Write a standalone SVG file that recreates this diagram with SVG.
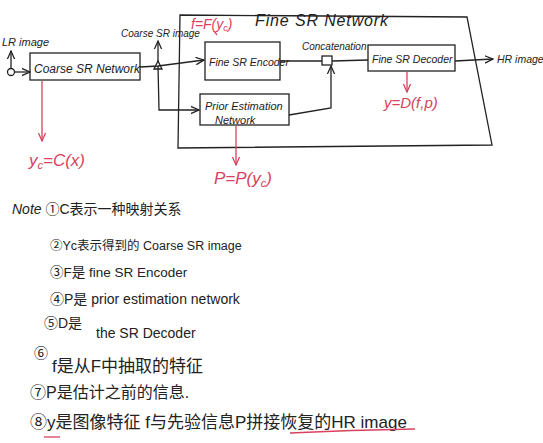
<svg xmlns="http://www.w3.org/2000/svg" width="543" height="443" viewBox="0 0 543 443">
<defs>
<style>
.ink{fill:none;stroke:#222;stroke-width:1.3}
.red{fill:none;stroke:#d9415e;stroke-width:1.3}
.t{font-family:"Liberation Sans","Noto Sans CJK SC",sans-serif;fill:#222;font-style:italic}
.r{font-family:"Liberation Sans","Noto Sans CJK SC",sans-serif;fill:#d9415e;font-style:italic}
.n{font-family:"Liberation Sans","Noto Sans CJK SC",sans-serif;fill:#222}
</style>
<marker id="ah" viewBox="0 0 10 10" refX="9" refY="5" markerWidth="7" markerHeight="7" orient="auto-start-reverse"><path d="M0,1 L9,5 L0,9" fill="none" stroke="#222" stroke-width="1.4"/></marker>
<marker id="ahr" viewBox="0 0 10 10" refX="9" refY="5" markerWidth="7" markerHeight="7" orient="auto-start-reverse"><path d="M0,1 L9,5 L0,9" fill="none" stroke="#d9415e" stroke-width="1.4"/></marker>
</defs>
<rect width="543" height="443" fill="#fff"/>

<g id="fine-sr-network">
<path class="ink" d="M180,15 L467,17 L492,145 L178,148 Z"/>
<text class="t" x="255" y="26" font-size="16" textLength="133">Fine  SR  Network</text>
<text class="r" x="191" y="29" font-size="14">f=F(y<tspan font-size="9" dy="2">c</tspan><tspan dy="-2">)</tspan></text>
</g>

<g id="lr-image">
<circle cx="11" cy="72" r="3.5" class="ink"/>
<text class="t" x="2" y="46" font-size="11">LR image</text>
</g>

<g id="coarse-sr-network">
<rect x="30" y="53" width="110" height="27" class="ink"/>
<text class="t" x="34" y="73" font-size="12">Coarse  SR  Network</text>
</g>

<g id="fine-sr-encoder">
<rect x="205" y="42" width="75" height="38" class="ink"/>
<text class="t" x="209" y="66" font-size="10.5">Fine SR Encoder</text>
</g>

<g id="concatenation">
<rect x="322" y="56" width="10" height="9" class="ink"/>
<text class="t" x="302" y="50" font-size="10">Concatenation</text>
</g>

<g id="fine-sr-decoder">
<rect x="368" y="45" width="87" height="26" class="ink"/>
<text class="t" x="372" y="63" font-size="10.5">Fine SR Decoder</text>
</g>

<g id="prior-estimation-network">
<rect x="200" y="94" width="89" height="31" class="ink"/>
<text class="t" x="205" y="110" font-size="11">Prior  Estimation</text>
<text class="t" x="215" y="124" font-size="11">Network</text>
</g>

<g id="hr-image">
<text class="t" x="497" y="63" font-size="10.5">HR image</text>
</g>

<g id="coarse-sr-image">
<path class="ink" d="M154,69 L158,61 L162,69 Z"/>
<text class="t" x="121" y="37" font-size="10">Coarse SR image</text>
</g>

<g id="connectors">
<path class="ink" d="M11,68 L11,51" marker-end="url(#ah)"/>
<path class="ink" d="M15,72 L30,72" marker-end="url(#ah)"/>
<path class="ink" d="M140,67 L158,66 L204,60" marker-end="url(#ah)"/>
<path class="ink" d="M158,62 L158,41" marker-end="url(#ah)"/>
<path class="ink" d="M158,66 L159,110 L199,110" marker-end="url(#ah)"/>
<path class="ink" d="M280,61 L322,61"/>
<path class="ink" d="M332,61 L368,60"/>
<path class="ink" d="M289,115 L331,108 L331,66" marker-end="url(#ah)"/>
<path class="ink" d="M455,61 L493,59" marker-end="url(#ah)"/>
<path class="red" d="M42,81 L42,141" marker-end="url(#ahr)"/>
<path class="red" d="M236,126 L236,165" marker-end="url(#ahr)"/>
<path class="red" d="M407,72 L407,92" marker-end="url(#ahr)"/>
<path class="red" d="M214,31 L217,35"/>
</g>

<g id="formulas">
<text class="r" x="29" y="166" font-size="17">y<tspan font-size="11" dy="3">c</tspan><tspan dy="-3">=C(x)</tspan></text>
<text class="r" x="214" y="184" font-size="17">P=P(y<tspan font-size="11" dy="3">c</tspan><tspan dy="-3">)</tspan></text>
<text class="r" x="384" y="108" font-size="15">y=D(f,p)</text>
</g>

<g id="notes">
<text class="n" x="12" y="214" font-size="14"><tspan font-style="italic">Note</tspan> ①C表示一种映射关系</text>
<text class="n" x="50" y="250" font-size="12.5">②Yc表示得到的 Coarse SR image</text>
<text class="n" x="50" y="277" font-size="13.5">③F是 fine SR Encoder</text>
<text class="n" x="50" y="304" font-size="14">④P是 prior estimation network</text>
<text class="n" x="44" y="328" font-size="14">⑤D是</text>
<text class="n" x="96" y="338" font-size="14">the SR Decoder</text>
<text class="n" x="34" y="358" font-size="14">⑥</text>
<text class="n" x="52" y="372" font-size="17">f是从F中抽取的特征</text>
<text class="n" x="30" y="398" font-size="16">⑦P是估计之前的信息.</text>
<text class="n" x="30" y="428" font-size="17">⑧y是图像特征 f与先验信息P拼接恢复的HR image</text>
<path class="red" d="M44,437 L60,437"/>
<path class="red" d="M290,433 Q350,430 415,429"/>
</g>
</svg>
